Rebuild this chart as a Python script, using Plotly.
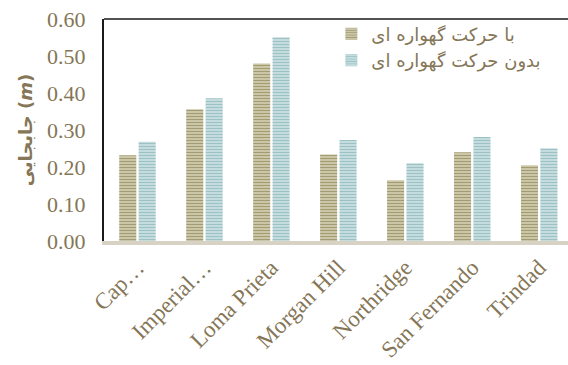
import plotly.graph_objects as go

categories = ["Cap…", "Imperial…", "Loma Prieta", "Morgan Hill", "Northridge", "San Fernando", "Trindad"]
with_cradle = [0.232, 0.356, 0.480, 0.234, 0.164, 0.240, 0.205]
without_cradle = [0.268, 0.386, 0.551, 0.273, 0.210, 0.281, 0.251]
series_names = ["با حرکت گهواره ای", "بدون حرکت گهواره ای"]
y_ticks = [0.0, 0.1, 0.2, 0.3, 0.4, 0.5, 0.6]

TEXT = "#857657"

fig = go.Figure()
fig.add_trace(go.Bar(
    x=categories, y=with_cradle, name=series_names[0],
    marker=dict(color="#d8d4ba", line=dict(width=0),
                pattern=dict(shape="-", fgcolor="#a39c73", bgcolor="#d8d4ba",
                             size=3, solidity=0.5, fillmode="replace")),
))
fig.add_trace(go.Bar(
    x=categories, y=without_cradle, name=series_names[1],
    marker=dict(color="#d2e5e7", line=dict(width=0),
                pattern=dict(shape="-", fgcolor="#9cc2c5", bgcolor="#d2e5e7",
                             size=3, solidity=0.5, fillmode="replace")),
))

fig.update_layout(
    width=568, height=365,
    margin=dict(l=104, r=0, t=19, b=124),
    plot_bgcolor="white", paper_bgcolor="white",
    barmode="group", bargap=0.42, bargroupgap=0.12,
    font=dict(family="Liberation Serif", color=TEXT),
    showlegend=True,
    legend=dict(
        x=0.49, y=1.015, xanchor="left", yanchor="top",
        bgcolor="rgba(0,0,0,0)", itemwidth=30, tracegroupgap=0,
        font=dict(family="DejaVu Sans", size=18, color=TEXT),
    ),
    xaxis=dict(
        range=[-0.5, 6.43], tickangle=-45, showgrid=False, automargin=False,
        showline=True, linecolor="#d8d2c5", linewidth=4,
        ticks="", ticklabelstandoff=0,
        tickfont=dict(size=23, family="Liberation Serif", color=TEXT),
    ),
    yaxis=dict(
        range=[0, 0.6], tickvals=y_ticks, tickformat=".2f", automargin=False,
        showgrid=False, zeroline=False,
        showline=True, linecolor="#1a1a1a", linewidth=2,
        ticks="", ticklabelstandoff=12,
        tickfont=dict(size=22, family="Liberation Serif", color=TEXT),
        title=dict(text="<b>جابجایی (<i>m</i>)</b>",
                   font=dict(size=18, family="DejaVu Sans", color=TEXT),
                   standoff=10),
    ),
    shapes=[dict(type="line", xref="paper", yref="paper", x0=0, x1=1, y0=1, y1=1,
                 line=dict(color="#1a1a1a", width=1.5))],
)

fig.write_html("out.html")
